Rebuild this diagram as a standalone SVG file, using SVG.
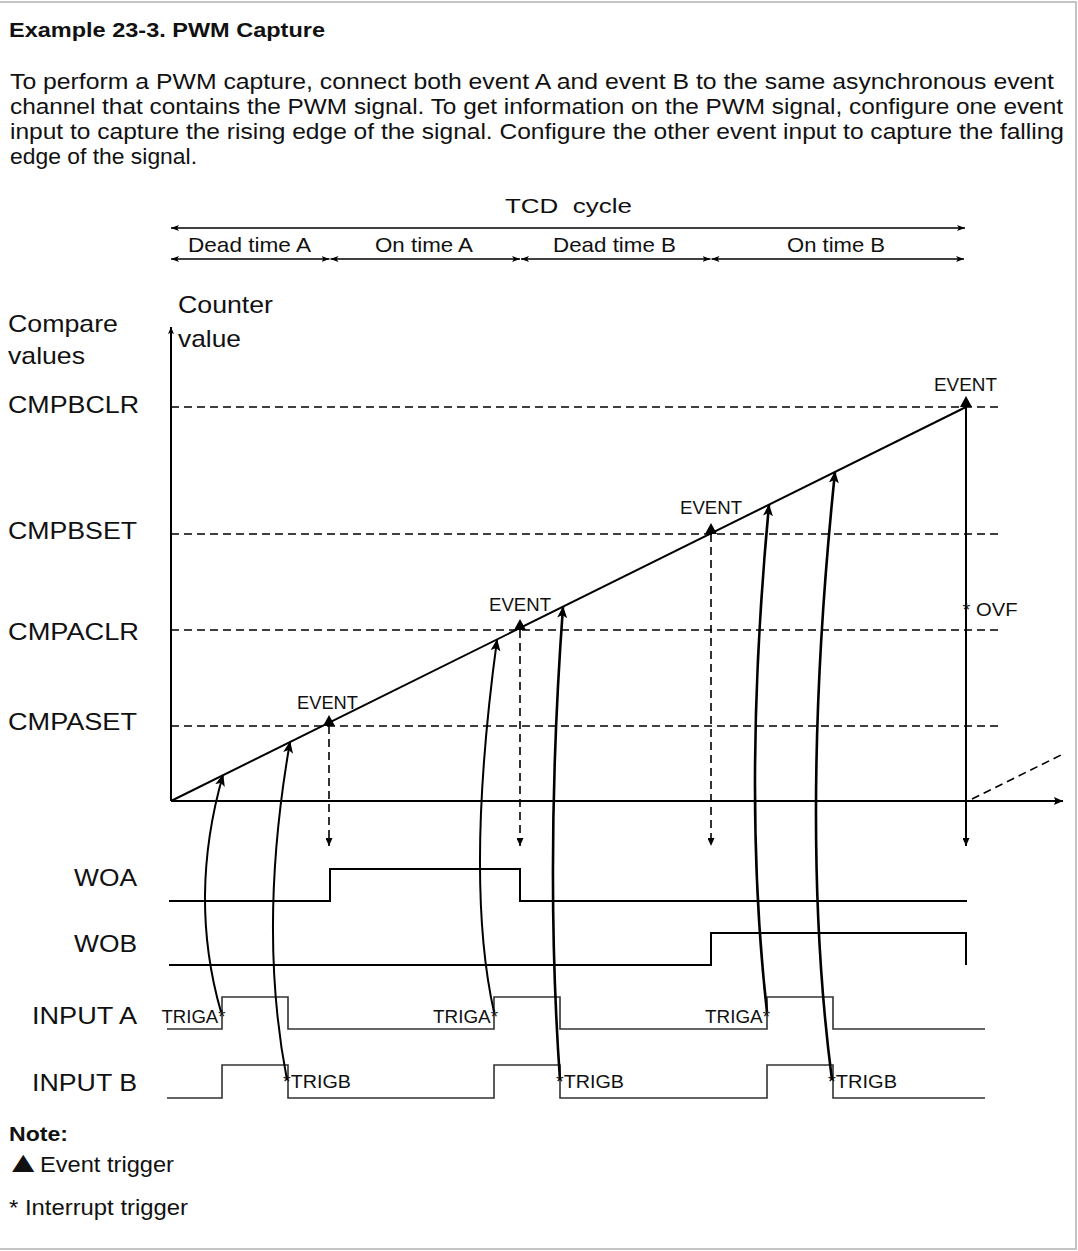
<svg xmlns="http://www.w3.org/2000/svg" width="1078" height="1251" viewBox="0 0 1078 1251">
  <style>
    text { font-family: "Liberation Sans", Arial, Helvetica, sans-serif; fill: #111; }
    .title { font-size: 21px; font-weight: bold; }
    .body { font-size: 22px; }
    .dim { font-size: 21px; }
    .lbl { font-size: 24px; }
    .sm { font-size: 17.5px; }
    .note { font-size: 22px; }
    .tri { font-size: 27px; }
    .noteb { font-size: 21px; font-weight: bold; }
    .axis { stroke: #000; stroke-width: 2; fill: none; }
    .ramp { stroke: #000; stroke-width: 2; fill: none; }
    .cmp { stroke: #000; stroke-width: 1.6; stroke-dasharray: 8 5; fill: none; }
    .dimln { stroke: #000; stroke-width: 1.6; fill: none; }
    .wo { stroke: #000; stroke-width: 2; fill: none; }
    .inp { stroke: #333; stroke-width: 1.6; fill: none; }
    .trig { stroke: #000; stroke-width: 2; fill: none; }
    .trig2 { stroke: #000; stroke-width: 2.6; fill: none; }
    .evt { fill: #000; stroke: none; }
  </style>
  <defs>
    <!-- filled arrowhead used by the trigger curves -->
    <marker id="ah" viewBox="0 0 12 10" refX="11" refY="5" markerWidth="12" markerHeight="10" markerUnits="userSpaceOnUse" orient="auto">
      <path d="M0,0 L12,5 L0,10 L3,5 Z" fill="#000"/>
    </marker>
    <!-- small arrowhead for the time span dimension lines -->
    <marker id="dh" viewBox="0 0 8 6" refX="8" refY="3" markerWidth="8" markerHeight="6" markerUnits="userSpaceOnUse" orient="auto-start-reverse">
      <path d="M0,0 L8,3 L0,6 L2,3 Z" fill="#000"/>
    </marker>
    <!-- arrowheads at the ends of the axes and drop lines -->
    <marker id="xh" viewBox="0 0 9 8" refX="9" refY="4" markerWidth="9" markerHeight="8" markerUnits="userSpaceOnUse" orient="auto">
      <path d="M0,0 L9,4 L0,8 L1.5,4 Z" fill="#000"/>
    </marker>
    <marker id="yh" viewBox="0 0 7 6" refX="7" refY="3" markerWidth="7" markerHeight="6" markerUnits="userSpaceOnUse" orient="auto">
      <path d="M0,0 L7,3 L0,6 L1.5,3 Z" fill="#000"/>
    </marker>
    <marker id="vh" viewBox="0 0 8 7" refX="8" refY="3.5" markerWidth="8" markerHeight="7" markerUnits="userSpaceOnUse" orient="auto">
      <path d="M0,0 L8,3.5 L0,7 Z" fill="#000"/>
    </marker>
  </defs>

  <rect width="1078" height="1251" fill="#fff"/>
  <!-- frame -->
  <path d="M0 2 H1076 V1249 H0" fill="none" stroke="#c4c4c4" stroke-width="2"/>

  <!-- heading and description -->
  <g id="header">
    <text class="title" x="9" y="37" textLength="316" lengthAdjust="spacingAndGlyphs">Example 23-3.  PWM Capture</text>
    <text class="body" x="10" y="89" textLength="1044" lengthAdjust="spacingAndGlyphs">To perform a PWM capture, connect both event A and event B to the same asynchronous event</text>
    <text class="body" x="10" y="114" textLength="1053" lengthAdjust="spacingAndGlyphs">channel that contains the PWM signal. To get information on the PWM signal, configure one event</text>
    <text class="body" x="10" y="139" textLength="1054" lengthAdjust="spacingAndGlyphs">input to capture the rising edge of the signal. Configure the other event input to capture the falling</text>
    <text class="body" x="10" y="164" textLength="187" lengthAdjust="spacingAndGlyphs">edge of the signal.</text>
  </g>

  <!-- time spans -->
  <g id="spans">
    <text class="dim" x="505" y="213" xml:space="preserve" textLength="127" lengthAdjust="spacingAndGlyphs">TCD  cycle</text>
    <path class="dimln" d="M171 228 H965" marker-start="url(#dh)" marker-end="url(#dh)"/>
    <text class="dim" x="188" y="252" textLength="123" lengthAdjust="spacingAndGlyphs">Dead time A</text>
    <text class="dim" x="375" y="252" textLength="98" lengthAdjust="spacingAndGlyphs">On time A</text>
    <text class="dim" x="553" y="252" textLength="123" lengthAdjust="spacingAndGlyphs">Dead time B</text>
    <text class="dim" x="787" y="252" textLength="98" lengthAdjust="spacingAndGlyphs">On time B</text>
    <path class="dimln" d="M171 259 H329.5" marker-start="url(#dh)" marker-end="url(#dh)"/>
    <path class="dimln" d="M330.5 259 H520" marker-start="url(#dh)" marker-end="url(#dh)"/>
    <path class="dimln" d="M521 259 H710.5" marker-start="url(#dh)" marker-end="url(#dh)"/>
    <path class="dimln" d="M711.5 259 H964" marker-start="url(#dh)" marker-end="url(#dh)"/>
  </g>

  <!-- axis and compare value labels -->
  <g id="labels">
    <text class="lbl" x="178" y="313" textLength="95" lengthAdjust="spacingAndGlyphs">Counter</text>
    <text class="lbl" x="178" y="347" textLength="63" lengthAdjust="spacingAndGlyphs">value</text>
    <text class="lbl" x="8" y="332" textLength="110" lengthAdjust="spacingAndGlyphs">Compare</text>
    <text class="lbl" x="8" y="364" textLength="77" lengthAdjust="spacingAndGlyphs">values</text>
    <text class="lbl" x="8" y="413" textLength="131" lengthAdjust="spacingAndGlyphs">CMPBCLR</text>
    <text class="lbl" x="8" y="539" textLength="129" lengthAdjust="spacingAndGlyphs">CMPBSET</text>
    <text class="lbl" x="8" y="640" textLength="131" lengthAdjust="spacingAndGlyphs">CMPACLR</text>
    <text class="lbl" x="8" y="730" textLength="129" lengthAdjust="spacingAndGlyphs">CMPASET</text>
    <text class="lbl" x="74" y="886" textLength="63" lengthAdjust="spacingAndGlyphs">WOA</text>
    <text class="lbl" x="74" y="952" textLength="63" lengthAdjust="spacingAndGlyphs">WOB</text>
    <text class="lbl" x="32" y="1024" textLength="105" lengthAdjust="spacingAndGlyphs">INPUT A</text>
    <text class="lbl" x="32" y="1091" textLength="105" lengthAdjust="spacingAndGlyphs">INPUT B</text>
  </g>

  <!-- counter plot -->
  <g id="plot">
    <path class="cmp" d="M171 407 H999"/>
    <path class="cmp" d="M171 534 H999"/>
    <path class="cmp" d="M171 630 H999"/>
    <path class="cmp" d="M171 726 H999"/>
    <path class="axis" d="M171 801 V327" marker-end="url(#yh)"/>
    <path class="axis" d="M171 801 H1063" marker-end="url(#xh)"/>
    <path class="ramp" d="M171 801 L966 407"/>
    <path class="cmp" d="M972 799 L1063 754"/>
  </g>

  <!-- compare match events -->
  <g id="events">
    <polygon class="evt" points="329,715 335,726 323,726"/>
    <path class="cmp" d="M329 726 V846" marker-end="url(#vh)"/>
    <text class="sm" x="297" y="709" textLength="61" lengthAdjust="spacingAndGlyphs">EVENT</text>

    <polygon class="evt" points="520,619 526,630 514,630"/>
    <path class="cmp" d="M520 630 V846" marker-end="url(#vh)"/>
    <text class="sm" x="489" y="611" textLength="62" lengthAdjust="spacingAndGlyphs">EVENT</text>

    <polygon class="evt" points="711,523 717,534 705,534"/>
    <path class="cmp" d="M711 534 V846" marker-end="url(#vh)"/>
    <text class="sm" x="680" y="514" textLength="62" lengthAdjust="spacingAndGlyphs">EVENT</text>

    <polygon class="evt" points="966,396 972,407 960,407"/>
    <path class="axis" d="M966 407 V846" marker-end="url(#vh)"/>
    <text class="sm" x="934" y="391" textLength="63" lengthAdjust="spacingAndGlyphs">EVENT</text>
    <text class="sm" x="962.5" y="616" xml:space="preserve" textLength="55" lengthAdjust="spacingAndGlyphs">* OVF</text>
  </g>

  <!-- output and input waveforms -->
  <g id="waveforms">
    <path class="wo" d="M169 901 H330 V869 H520 V901 H967"/>
    <path class="wo" d="M169 965 H711 V933 H966 V965"/>
    <path class="inp" d="M167 1029 H222 V997 H288 V1029 H494 V997 H560 V1029 H767 V997 H833 V1029 H985"/>
    <path class="inp" d="M167 1098 H222 V1065 H288 V1098 H494 V1065 H560 V1098 H767 V1065 H833 V1098 H985"/>
    <text class="sm" x="161.5" y="1023" textLength="64" lengthAdjust="spacingAndGlyphs">TRIGA*</text>
    <text class="sm" x="433" y="1023" textLength="65" lengthAdjust="spacingAndGlyphs">TRIGA*</text>
    <text class="sm" x="705" y="1023" textLength="65" lengthAdjust="spacingAndGlyphs">TRIGA*</text>
    <text class="sm" x="283" y="1088" textLength="68" lengthAdjust="spacingAndGlyphs">*TRIGB</text>
    <text class="sm" x="556" y="1088" textLength="68" lengthAdjust="spacingAndGlyphs">*TRIGB</text>
    <text class="sm" x="828" y="1088" textLength="69" lengthAdjust="spacingAndGlyphs">*TRIGB</text>
  </g>

  <!-- capture trigger connectors -->
  <g id="connectors">
    <path class="trig" d="M221 1012 Q188 897 223 775" marker-end="url(#ah)"/>
    <path class="trig" d="M287 1080 Q257.5 928 290 742" marker-end="url(#ah)"/>
    <path class="trig" d="M494 1012 Q464.5 880 497 640" marker-end="url(#ah)"/>
    <path class="trig2" d="M560 1080 Q544.5 860 563 607" marker-end="url(#ah)"/>
    <path class="trig2" d="M767 1012 Q742 790 769 505" marker-end="url(#ah)"/>
    <path class="trig2" d="M832 1080 Q798.5 824 835 472" marker-end="url(#ah)"/>
  </g>

  <!-- legend -->
  <g id="legend">
    <text class="noteb" x="9" y="1141" textLength="59" lengthAdjust="spacingAndGlyphs">Note:</text>
    <text class="tri" transform="translate(4.5 1172) scale(1.4 1.1)" x="0" y="0">▲</text>
    <text class="note" x="40" y="1172" textLength="134" lengthAdjust="spacingAndGlyphs">Event trigger</text>
    <text class="note" x="9" y="1215" textLength="179" lengthAdjust="spacingAndGlyphs">* Interrupt trigger</text>
  </g>
</svg>
